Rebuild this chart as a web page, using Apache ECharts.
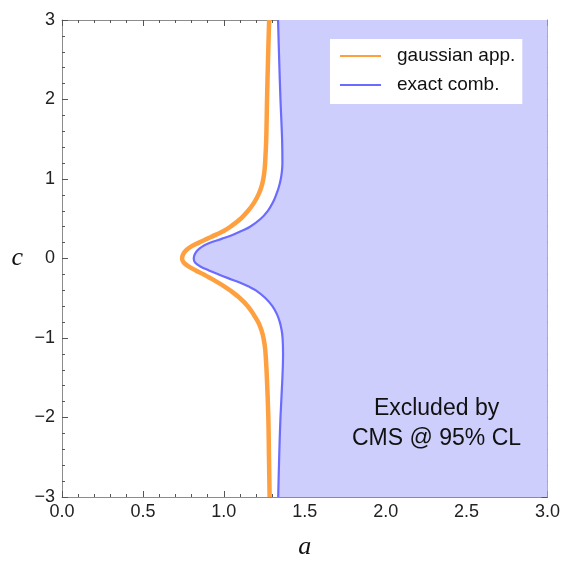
<!DOCTYPE html>
<html>
<head>
<meta charset="utf-8">
<script src="https://cdn.jsdelivr.net/npm/echarts@6/dist/echarts.min.js"></script>
<style>
  html, body { margin: 0; padding: 0; background: #fff; width: 100%; height: 100%; overflow: hidden; }
  #chart { width: 100%; height: 100%; }
</style>
</head>
<body>
<div id="chart"></div>
<script>
// Exclusion contour in the (a, c) plane: each point is [c, a]
const gaussianC = [3.0, 2.5, 2.0, 1.5, 1.2, 1.1, 1.0, 0.9, 0.8, 0.7, 0.6, 0.5, 0.4, 0.35, 0.3, 0.25, 0.2, 0.15, 0.1, 0.05, 0.0,
  -0.05, -0.1, -0.15, -0.2, -0.25, -0.3, -0.35, -0.4, -0.5, -0.6, -0.7, -0.8, -0.9, -1.0, -1.15, -1.5, -2.0, -2.5, -3.0];
const gaussianA = [1.280, 1.273, 1.267, 1.262, 1.255, 1.251, 1.244, 1.232, 1.213, 1.186, 1.150, 1.104, 1.040, 1.002, 0.952, 0.899, 0.846, 0.797, 0.765, 0.748, 0.742,
  0.752, 0.782, 0.826, 0.876, 0.920, 0.962, 1.002, 1.038, 1.100, 1.148, 1.183, 1.212, 1.232, 1.245, 1.256, 1.266, 1.275, 1.279, 1.283];

const exactC = [3.0, 2.5, 2.0, 1.5, 1.2, 1.1, 1.0, 0.9, 0.8, 0.7, 0.6, 0.5, 0.4, 0.35, 0.3, 0.25, 0.2, 0.15, 0.1, 0.05, 0.0,
  -0.05, -0.1, -0.15, -0.2, -0.25, -0.3, -0.35, -0.4, -0.5, -0.6, -0.7, -0.8, -0.9, -1.0, -1.2, -1.5, -2.0, -2.5, -3.0];
const exactA = [1.335, 1.342, 1.350, 1.360, 1.362, 1.359, 1.352, 1.340, 1.323, 1.302, 1.272, 1.228, 1.162, 1.112, 1.057, 0.990, 0.918, 0.866, 0.836, 0.820, 0.814,
  0.822, 0.855, 0.908, 0.968, 1.030, 1.094, 1.150, 1.198, 1.258, 1.300, 1.328, 1.346, 1.357, 1.363, 1.366, 1.362, 1.350, 1.342, 1.336];

const aRange = [0, 3];
const cRange = [-3, 3];
const seriesNames = ['gaussian app.', 'exact comb.'];
const noteLines = ['Excluded by', 'CMS @ 95% CL'];

const gaussianPts = gaussianA.map((a, i) => [a, gaussianC[i]]);
const exactPts = exactA.map((a, i) => [a, exactC[i]]);

const minus = v => String(v).replace('-', '\u2212');
const tickFont = { fontFamily: 'Liberation Sans', fontSize: 18, color: '#222' };
const frameLine = { show: true, onZero: false, lineStyle: { color: '#8c8c8c', width: 1 } };
const majorTick = { show: true, inside: true, length: 6, lineStyle: { color: '#555', width: 1 } };
const minorTick = { show: true, splitNumber: 5, length: 3, lineStyle: { color: '#555', width: 1 } };
const axisNameFont = { fontFamily: 'Liberation Serif', fontStyle: 'italic', fontSize: 26, color: '#111' };

const chart = echarts.init(document.getElementById('chart'), null, { renderer: 'canvas' });

chart.setOption({
  animation: false,
  backgroundColor: '#fff',
  grid: { left: 62, right: 13, top: 20, bottom: 58 },
  xAxis: [{
    type: 'value', min: aRange[0], max: aRange[1], interval: 0.5,
    name: 'a', nameLocation: 'middle', nameGap: 37, nameTextStyle: axisNameFont,
    axisLine: frameLine, axisTick: majorTick, minorTick: minorTick,
    axisLabel: Object.assign({ margin: 6, formatter: v => v.toFixed(1) }, tickFont),
    splitLine: { show: false }
  }, {
    type: 'value', min: aRange[0], max: aRange[1], interval: 0.5, position: 'top',
    axisLine: frameLine, axisTick: majorTick, minorTick: minorTick,
    axisLabel: { show: false }, splitLine: { show: false }
  }],
  yAxis: [{
    type: 'value', min: cRange[0], max: cRange[1], interval: 1,
    name: 'c', nameLocation: 'middle', nameGap: 39, nameRotate: 0, nameTextStyle: axisNameFont,
    axisLine: frameLine, axisTick: majorTick, minorTick: minorTick,
    axisLabel: Object.assign({ margin: 7, formatter: v => minus(v) }, tickFont),
    splitLine: { show: false }
  }, {
    type: 'value', min: cRange[0], max: cRange[1], interval: 1, position: 'right',
    axisLine: frameLine, axisTick: majorTick, minorTick: minorTick,
    axisLabel: { show: false }, splitLine: { show: false }
  }],
  legend: {
    left: 330, top: 39,
    orient: 'vertical',
    backgroundColor: '#fff',
    padding: [7, 7, 9, 10],
    itemWidth: 41, itemHeight: 14, itemGap: 9,
    icon: 'path://M0,6 L41,6 L41,8 L0,8 Z',
    textStyle: { fontFamily: 'Liberation Sans', fontSize: 19, lineHeight: 20, color: '#111', padding: [0, 0, 0, 11] },
    data: seriesNames
  },
  graphic: [{
    type: 'text', left: 434 - 82, top: 394, z: 10,
    style: {
      text: noteLines.join('\n'), fontFamily: 'Liberation Sans', fontSize: 23,
      lineHeight: 30, fill: '#111', textAlign: 'center', x: 82
    }
  }],
  series: [{
    // shaded region to the right of the exact contour
    type: 'custom', name: 'excluded', z: 1, silent: true,
    data: [0],
    renderItem: function (params, api) {
      const pts = exactPts.map(p => api.coord(p));
      pts.push(api.coord([aRange[1], cRange[0]]));
      pts.push(api.coord([aRange[1], cRange[1]]));
      return {
        type: 'polygon',
        shape: { points: pts },
        style: { fill: 'rgb(206,206,253)', stroke: null }
      };
    }
  }, {
    type: 'line', name: seriesNames[0], z: 3,
    data: gaussianPts, smooth: 0.35, symbol: 'none',
    lineStyle: { color: '#ffa040', width: 4.5 },
    itemStyle: { color: '#ffa040' }
  }, {
    type: 'line', name: seriesNames[1], z: 3,
    data: exactPts, smooth: 0.35, symbol: 'none',
    lineStyle: { color: '#6b6bff', width: 2.2 },
    itemStyle: { color: '#6b6bff' }
  }]
});
</script>
</body>
</html>
